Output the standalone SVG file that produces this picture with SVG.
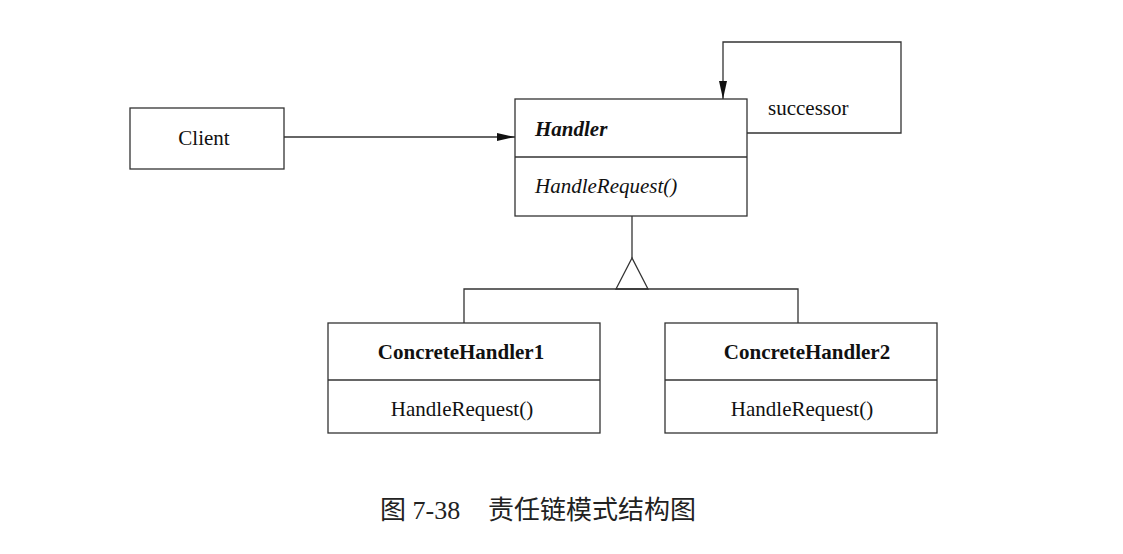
<svg xmlns="http://www.w3.org/2000/svg" width="1123" height="554" viewBox="0 0 1123 554">
<style>
.box{fill:#fff;stroke:#333;stroke-width:1.3}
.ln{fill:none;stroke:#333;stroke-width:1.3}
.t{font-family:"Liberation Serif","Times New Roman",serif;font-size:21px;fill:#111}
.c{text-anchor:middle}
.cap{font-family:"Liberation Serif","Noto Sans CJK SC",serif;font-size:26px;fill:#222}
</style>
<defs>
<marker id="arr" viewBox="0 0 18 8" refX="18" refY="4" markerWidth="18" markerHeight="8" markerUnits="userSpaceOnUse" orient="auto">
<path d="M0,0 L18,4 L0,8 Z" fill="#111"/>
</marker>
</defs>
<rect width="1123" height="554" fill="#fff"/>
<g id="connectors">
<line class="ln" x1="284" y1="137" x2="515" y2="137" marker-end="url(#arr)"/>
<polyline class="ln" points="747,133 901,133 901,42 723,42 723,99" marker-end="url(#arr)"/>
<line class="ln" x1="632" y1="216" x2="632" y2="258"/>
<polygon class="ln" points="632,258 616,289 648,289"/>
<polyline class="ln" points="464,323 464,289 798,289 798,323"/>
<text class="t" x="768" y="115">successor</text>
</g>
<g id="client">
<rect class="box" x="130" y="108" width="154" height="61"/>
<text class="t c" x="204" y="145">Client</text>
</g>
<g id="handler">
<rect class="box" x="515" y="99" width="232" height="117"/>
<line class="ln" x1="515" y1="157" x2="747" y2="157"/>
<text class="t" x="535" y="136" font-weight="bold" font-style="italic">Handler</text>
<text class="t" x="535" y="193" font-style="italic">HandleRequest()</text>
</g>
<g id="concrete1">
<rect class="box" x="328" y="323" width="272" height="110"/>
<line class="ln" x1="328" y1="380" x2="600" y2="380"/>
<text class="t c" x="461" y="359" font-weight="bold">ConcreteHandler1</text>
<text class="t c" x="462" y="416">HandleRequest()</text>
</g>
<g id="concrete2">
<rect class="box" x="665" y="323" width="272" height="110"/>
<line class="ln" x1="665" y1="380" x2="937" y2="380"/>
<text class="t c" x="807" y="359" font-weight="bold">ConcreteHandler2</text>
<text class="t c" x="802" y="416">HandleRequest()</text>
</g>
<g id="caption">
<text class="cap" x="380" y="519">图 7-38</text>
<text class="cap" x="488" y="519">责任链模式结构图</text>
</g>
</svg>
